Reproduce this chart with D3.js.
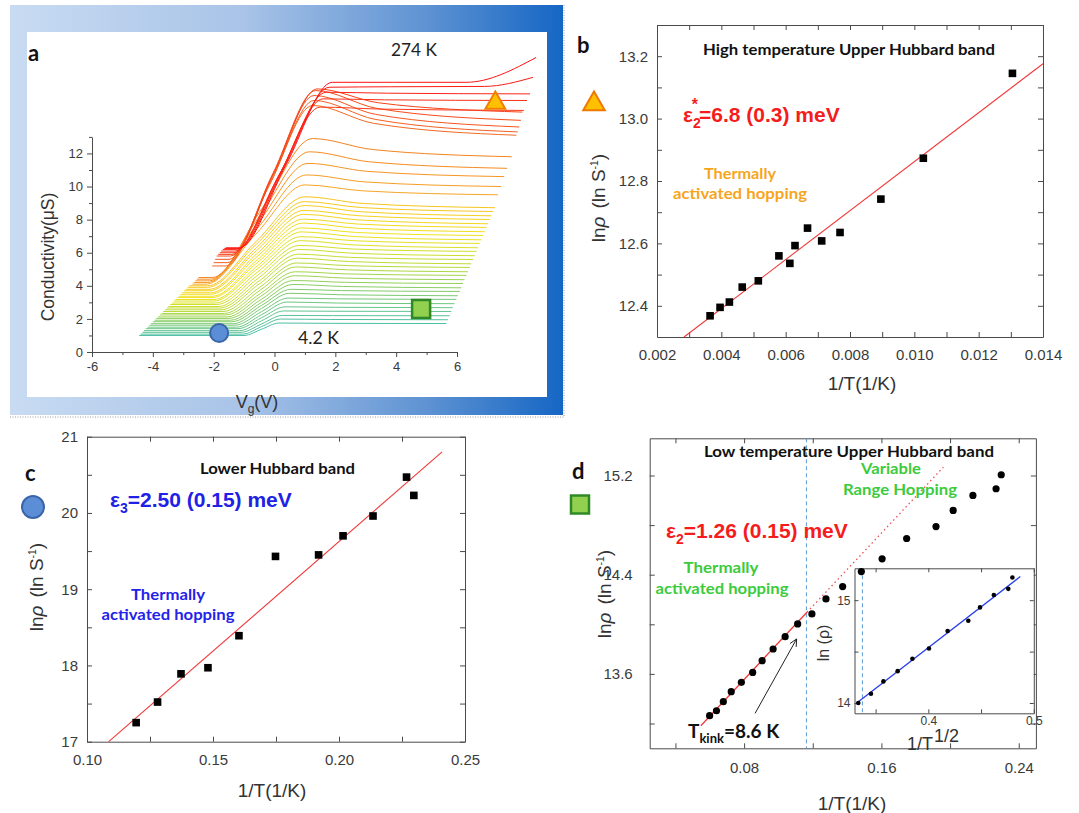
<!DOCTYPE html>
<html>
<head>
<meta charset="utf-8">
<script src="https://cdn.jsdelivr.net/npm/d3@7"></script>
<style>
  body { margin: 0; background: #fff; }
  svg { display: block; }
</style>
</head>
<body>
<div id="fig"></div>
<script>
// ---------- panel a : conductivity sweeps, 4.2 K (first row) up to 274 K (last row)
// row = [Vg left end, level left, Vg rise start, Vg knee, level at knee, Vg right end, level right end, (Vg tail start, level at end)]
var sweepRows = [
    [-4.45, 1.00, -1.00, 0.15, 1.75, 5.65, 1.72],
    [-4.40, 1.08, -1.05, 0.20, 1.99, 5.70, 1.95],
    [-4.34, 1.19, -1.10, 0.26, 2.21, 5.76, 2.19],
    [-4.29, 1.29, -1.15, 0.30, 2.48, 5.81, 2.45],
    [-4.23, 1.41, -1.20, 0.35, 2.73, 5.86, 2.68],
    [-4.17, 1.50, -1.25, 0.41, 3.02, 5.92, 2.92],
    [-4.11, 1.62, -1.30, 0.45, 3.26, 5.98, 3.18],
    [-4.06, 1.71, -1.36, 0.50, 3.55, 6.03, 3.40],
    [-4.00, 1.83, -1.40, 0.54, 3.79, 6.09, 3.66],
    [-3.94, 1.92, -1.45, 0.60, 4.08, 6.14, 3.88],
    [-3.89, 2.03, -1.50, 0.62, 4.32, 6.20, 4.14],
    [-3.83, 2.12, -1.56, 0.65, 4.61, 6.25, 4.37],
    [-3.77, 2.24, -1.60, 0.68, 4.85, 6.31, 4.63],
    [-3.71, 2.33, -1.65, 0.70, 5.14, 6.36, 4.85],
    [-3.66, 2.45, -1.70, 0.73, 5.38, 6.42, 5.11],
    [-3.60, 2.55, -1.76, 0.75, 5.67, 6.47, 5.33],
    [-3.54, 2.66, -1.80, 0.78, 5.91, 6.53, 5.59],
    [-3.49, 2.75, -1.85, 0.80, 6.20, 6.58, 5.82],
    [-3.43, 2.87, -1.90, 0.82, 6.44, 6.64, 6.08],
    [-3.37, 2.96, -1.95, 0.85, 6.73, 6.69, 6.30],
    [-3.31, 3.08, -2.00, 0.87, 6.97, 6.75, 6.56],
    [-3.26, 3.17, -2.00, 0.89, 7.26, 6.80, 6.78],
    [-3.20, 3.29, -2.05, 0.91, 7.50, 6.86, 7.04],
    [-3.14, 3.37, -2.05, 0.93, 7.79, 6.91, 7.27],
    [-3.09, 3.49, -2.10, 0.95, 8.03, 6.97, 7.53],
    [-3.03, 3.58, -2.10, 0.96, 8.32, 7.02, 7.75],
    [-2.97, 3.70, -2.15, 0.97, 8.56, 7.08, 8.01],
    [-2.92, 3.79, -2.15, 0.98, 8.85, 7.13, 8.23],
    [-2.86, 3.91, -2.20, 0.99, 9.09, 7.19, 8.49],
    [-2.80, 4.00, -2.20, 1.00, 9.38, 7.25, 8.72],
    [-2.70, 4.10, -2.25, 1.00, 10.10, 7.35, 9.50],
    [-2.65, 4.20, -2.20, 1.05, 10.70, 7.45, 10.00],
    [-2.60, 4.30, -2.15, 1.10, 11.40, 7.55, 10.60],
    [-2.55, 4.40, -2.10, 1.15, 12.10, 7.65, 11.10],
    [-2.50, 4.50, -2.05, 1.25, 12.90, 7.80, 11.80],
    [-2.05, 5.20, -1.60, 1.25, 14.90, 7.95, 13.10],
    [-2.00, 5.40, -1.55, 1.30, 15.20, 8.00, 13.30],
    [-1.95, 5.60, -1.50, 1.30, 15.50, 8.05, 13.60],
    [-1.90, 5.80, -1.45, 1.35, 15.80, 8.10, 14.00],
    [-1.85, 5.90, -1.40, 1.40, 15.90, 8.15, 14.50],
    [-1.80, 6.00, -1.35, 1.50, 14.80, 8.20, 14.60],
    [-1.75, 6.10, -1.30, 1.60, 15.30, 8.30, 15.20],
    [-1.70, 6.20, -1.25, 1.70, 15.70, 8.40, 15.60],
    [-1.65, 6.25, -1.20, 1.80, 16.00, 8.50, 16.05, 6.90, 16.60],
    [-1.60, 6.30, -1.15, 1.90, 16.30, 8.60, 16.30, 6.30, 17.80]
];
var sweepColorAt = [0, 8, 15, 22, 29, 30, 34, 35, 44];
var sweepColors = ['#4cbfa6', '#80cc6a', '#bedc34', '#f0e31c', '#f7c51e', '#f7a526', '#f5841f', '#f26a22', '#ff1111'];
var aTicksX = [-6, -4, -2, 0, 2, 4, 6];
var aMinorX = [-5, -3, -1, 1, 3, 5];
var aTicksY = [0, 2, 4, 6, 8, 10, 12];
var aMinorY = [1, 3, 5, 7, 9, 11, 13];
var aMarkCircle = [-1.82, 1.15];
var aMarkSquare = [4.82, 2.6];
var aMarkTriangle = [7.26, 15.05];

// ---------- panel b : high temperature upper Hubbard band
var bInvT = [0.00365, 0.00396, 0.00425, 0.00465, 0.00515, 0.00579, 0.00613, 0.00629, 0.00668, 0.00712, 0.00769, 0.00896, 0.01028, 0.01305];
var bLnRho = [12.368, 12.395, 12.412, 12.460, 12.480, 12.560, 12.536, 12.593, 12.649, 12.608, 12.635, 12.742, 12.873, 13.145];
var bFitX = [0.00284, 0.014];
var bFitY = [12.30, 13.176];
var bTicksX = [0.002, 0.004, 0.006, 0.008, 0.010, 0.012, 0.014];
var bMinorX = [0.003, 0.005, 0.007, 0.009, 0.011, 0.013];
var bTicksY = [12.4, 12.6, 12.8, 13.0, 13.2];
var bMinorY = [12.5, 12.7, 12.9, 13.1];

// ---------- panel c : lower Hubbard band
var cInvT = [0.1195, 0.1280, 0.1373, 0.1480, 0.1603, 0.1748, 0.1919, 0.2016, 0.2135, 0.2268, 0.2297];
var cLnRho = [17.25, 17.52, 17.89, 17.97, 18.39, 19.43, 19.45, 19.70, 19.96, 20.47, 20.23];
var cFitX = [0.1086, 0.2409];
var cFitY = [17.0, 20.80];
var cTicksX = [0.10, 0.15, 0.20, 0.25];
var cMinorX = [0.125, 0.175, 0.225];
var cTicksY = [17, 18, 19, 20, 21];
var cMinorY = [17.5, 18.5, 19.5, 20.5];

// ---------- panel d : low temperature upper Hubbard band
var dInvT = [0.0599, 0.0639, 0.0679, 0.0725, 0.0784, 0.0850, 0.0905, 0.0969, 0.1039, 0.1112, 0.1195, 0.1277, 0.1374, 0.1483, 0.1604, 0.1747, 0.1918, 0.2018, 0.2133, 0.2268, 0.2298];
var dLnRho = [13.263, 13.303, 13.376, 13.457, 13.532, 13.612, 13.707, 13.801, 13.900, 14.003, 14.084, 14.205, 14.304, 14.425, 14.528, 14.692, 14.788, 14.918, 15.039, 15.093, 15.206];
var dFitX = [0.0548, 0.1166];
var dFitY = [13.182, 14.097];
var dExtX = [0.1166, 0.1961];
var dExtY = [14.097, 15.267];
var dKink = 0.1163;
var dArrowX = [0.0864, 0.1106];
var dArrowY = [13.282, 13.882];
var dTicksX = [0.08, 0.16, 0.24];
var dMinorX = [0.04, 0.12, 0.20];
var dTicksY = [13.6, 14.4, 15.2];
var dMinorY = [13.2, 14.0, 14.8];

// inset of d : ln(rho) against T^-1/2
var iInvSqrtT = [0.3336, 0.3456, 0.3574, 0.3709, 0.3849, 0.4006, 0.4183, 0.4379, 0.4490, 0.4621, 0.4758, 0.4797];
var iLnRho = [14.00, 14.09, 14.21, 14.31, 14.43, 14.53, 14.70, 14.80, 14.93, 15.05, 15.11, 15.22];
var iFitX = [0.3309, 0.4872];
var iFitY = [13.99, 15.23];
var iKink = 0.3375;
var iTicksX = [0.4, 0.5];
var iMinorX = [0.35, 0.45];
var iTicksY = [14, 15];
var iMinorY = [14.5];

var SANS = '"Liberation Sans", Arial, Helvetica, sans-serif';
var CAL = 'Lato, "Open Sans", sans-serif';

var svg = d3.select('#fig').append('svg')
    .attr('width', 1079)
    .attr('height', 813)
    .attr('font-family', SANS);
svg.append('rect').attr('width', 1079).attr('height', 813).attr('fill', '#fff');

function label(x, y, str, size, opt) {
    opt = opt || {};
    var t = svg.append('text')
        .attr('x', x)
        .attr('y', y)
        .attr('font-family', opt.family || CAL)
        .attr('font-size', size)
        .attr('font-weight', opt.weight || 'normal')
        .attr('fill', opt.fill || '#111')
        .attr('text-anchor', opt.anchor || 'start')
        .text(str);
    if (opt.len) {
        t.attr('textLength', opt.len).attr('lengthAdjust', 'spacingAndGlyphs');
    }
    return t;
}

function styleAxis(sel, fs) {
    sel.attr('font-family', SANS).attr('font-size', fs);
    sel.selectAll('.domain').attr('stroke', '#4a4a4a');
    sel.selectAll('.tick line').attr('stroke', '#4a4a4a');
    sel.selectAll('.tick text').attr('fill', '#3a3a3a');
}

function boxAxes(x, y, o) {
    var g = svg.append('g');
    var xt = o.xMajor.concat(o.xMinor), yt = o.yMajor.concat(o.yMinor);
    var fx = function (d) { return o.xMajor.indexOf(d) >= 0 ? o.xFmt(d) : ''; };
    var fy = function (d) { return o.yMajor.indexOf(d) >= 0 ? o.yFmt(d) : ''; };
    var none = function () { return ''; };
    g.append('g').attr('transform', 'translate(0,' + y.range()[0] + ')')
        .call(d3.axisBottom(x).tickValues(xt).tickSize(-o.tick).tickSizeOuter(0).tickPadding(o.xPad).tickFormat(fx))
        .call(styleAxis, o.fs);
    g.append('g').attr('transform', 'translate(0,' + y.range()[1] + ')')
        .call(d3.axisTop(x).tickValues(xt).tickSize(-o.tick).tickSizeOuter(0).tickFormat(none))
        .call(styleAxis, o.fs);
    g.append('g').attr('transform', 'translate(' + x.range()[0] + ',0)')
        .call(d3.axisLeft(y).tickValues(yt).tickSize(-o.tick).tickSizeOuter(0).tickPadding(o.yPad).tickFormat(fy))
        .call(styleAxis, o.fs);
    g.append('g').attr('transform', 'translate(' + x.range()[1] + ',0)')
        .call(d3.axisRight(y).tickValues(yt).tickSize(-o.tick).tickSizeOuter(0).tickFormat(none))
        .call(styleAxis, o.fs);
    return g;
}

function lnRhoTitle(cx, cy, fs) {
    var t = svg.append('text')
        .attr('transform', 'translate(' + cx + ',' + cy + ') rotate(-90)')
        .attr('text-anchor', 'middle')
        .attr('dy', '0.35em')
        .attr('font-size', fs)
        .attr('fill', '#333');
    t.append('tspan').text('ln');
    t.append('tspan').attr('font-style', 'italic').text('ρ');
    t.append('tspan').attr('dx', 8).text('(ln S');
    t.append('tspan').attr('dy', -7).attr('font-size', fs * 0.55).text('-1');
    t.append('tspan').attr('dy', 7).text(')');
}

function invTTitle(cx, y) {
    label(cx, y, '1/T(1/K)', 19, {family: SANS, anchor: 'middle', fill: '#333'});
}

function fitPath(x, y, xs, ys) {
    return d3.line().x(function (d) { return x(d[0]); }).y(function (d) { return y(d[1]); })(d3.zip(xs, ys));
}

// ================= panel a =================
var defs = svg.append('defs');
var grad = defs.append('linearGradient').attr('id', 'frameGrad').attr('x1', 0).attr('x2', 1).attr('y1', 0).attr('y2', 0);
grad.append('stop').attr('offset', 0).attr('stop-color', '#c8dbf2');
grad.append('stop').attr('offset', 0.42).attr('stop-color', '#a9c4e8');
grad.append('stop').attr('offset', 0.75).attr('stop-color', '#5f93d3');
grad.append('stop').attr('offset', 1).attr('stop-color', '#1566c4');

svg.append('rect').attr('x', 10).attr('y', 5).attr('width', 553).attr('height', 410).attr('fill', 'url(#frameGrad)');
svg.append('rect').attr('x', 27).attr('y', 32).attr('width', 520).attr('height', 365).attr('fill', '#fff');
svg.append('line').attr('x1', 564).attr('x2', 564).attr('y1', 5).attr('y2', 417)
    .attr('stroke', '#9a9a9a').attr('stroke-dasharray', '1,1.5');
svg.append('line').attr('x1', 10).attr('x2', 564).attr('y1', 417).attr('y2', 417)
    .attr('stroke', '#9a9a9a').attr('stroke-dasharray', '1,1.5');

var xA = d3.scaleLinear().domain([-6, 6]).range([92, 457]);
var yA = d3.scaleLinear().domain([0, 13]).range([352, 136.9]);

var ga = svg.append('g');
ga.append('g').attr('transform', 'translate(0,' + yA(0) + ')')
    .call(d3.axisBottom(xA).tickValues(aMinorX).tickSize(3).tickFormat(function () { return ''; }))
    .call(function (g) { g.select('.domain').remove(); })
    .call(styleAxis, 13);
ga.append('g').attr('transform', 'translate(0,' + yA(0) + ')')
    .call(d3.axisBottom(xA).tickValues(aTicksX).tickSize(5).tickSizeOuter(0).tickPadding(5)
        .tickFormat(function (d) { return String(d); }))
    .call(styleAxis, 13);
ga.append('g').attr('transform', 'translate(' + xA(-6) + ',0)')
    .call(d3.axisLeft(yA).tickValues(aMinorY).tickSize(3).tickFormat(function () { return ''; }))
    .call(function (g) { g.select('.domain').remove(); })
    .call(styleAxis, 13);
ga.append('g').attr('transform', 'translate(' + xA(-6) + ',0)')
    .call(d3.axisLeft(yA).tickValues(aTicksY).tickSize(5).tickSizeOuter(0).tickPadding(4)
        .tickFormat(function (d) { return String(d); }))
    .call(styleAxis, 13);

var sweepColor = d3.scaleLinear().domain(sweepColorAt).range(sweepColors).interpolate(d3.interpolateRgb);
var sweepLine = d3.line()
    .x(function (d) { return xA(d[0]); })
    .y(function (d) { return yA(d[1]); })
    .curve(d3.curveMonotoneX);

function sweepPoints(r) {
    var pts = [[r[0], r[1]], [r[2], r[1]], [(r[2] + r[3]) / 2, (r[1] + r[4]) / 2], [r[3], r[4]]];
    pts.push([r[3] + 0.3 * (r[5] - r[3]), r[6] + 0.4 * (r[4] - r[6])]);
    if (r.length > 7) {
        pts.push([r[7], r[6]]);
        pts.push([r[5], r[8]]);
    } else {
        pts.push([r[5], r[6]]);
    }
    return pts;
}

ga.append('g').selectAll('path')
    .data(sweepRows)
    .enter().append('path')
    .attr('d', function (r) { return sweepLine(sweepPoints(r)); })
    .attr('fill', 'none')
    .attr('stroke', function (r, i) { return sweepColor(i); })
    .attr('stroke-width', 1);

ga.append('circle')
    .attr('cx', xA(aMarkCircle[0])).attr('cy', yA(aMarkCircle[1])).attr('r', 9)
    .attr('fill', '#5b8ed6').attr('stroke', '#3a66a8').attr('stroke-width', 2);
ga.append('rect')
    .attr('x', xA(aMarkSquare[0]) - 9).attr('y', yA(aMarkSquare[1]) - 9).attr('width', 18).attr('height', 18)
    .attr('fill', '#92d050').attr('stroke', '#2f8a26').attr('stroke-width', 2.5);
ga.append('path')
    .attr('transform', 'translate(' + xA(aMarkTriangle[0]) + ',' + yA(aMarkTriangle[1]) + ')')
    .attr('d', d3.symbol().type(d3.symbolTriangle).size(170)())
    .attr('fill', '#ffc000').attr('stroke', '#f08000').attr('stroke-width', 2);

label(28, 61, 'a', 22, {weight: 'bold'});
label(391, 56, '274 K', 17, {len: 46, fill: '#222'});
label(298, 344, '4.2 K', 17, {len: 41, fill: '#222'});
svg.append('text')
    .attr('transform', 'translate(48,257) rotate(-90)')
    .attr('text-anchor', 'middle').attr('dy', '0.35em')
    .attr('font-size', 17.5).attr('fill', '#333')
    .text('Conductivity(μS)');
var vgt = svg.append('text').attr('x', 257).attr('y', 408).attr('text-anchor', 'middle')
    .attr('font-size', 18).attr('fill', '#333');
vgt.append('tspan').text('V');
vgt.append('tspan').attr('dy', 5).attr('font-size', 12).text('g');
vgt.append('tspan').attr('dy', -5).text('(V)');

// ================= panel b =================
var xB = d3.scaleLinear().domain([0.002, 0.014]).range([657, 1043]);
var yB = d3.scaleLinear().domain([12.3, 13.3]).range([337, 25]);
boxAxes(xB, yB, {xMajor: bTicksX, xMinor: bMinorX, yMajor: bTicksY, yMinor: bMinorY,
    xFmt: d3.format('.3f'), yFmt: d3.format('.1f'), tick: 5, xPad: 12, yPad: 9, fs: 15});

svg.append('path').attr('d', fitPath(xB, yB, bFitX, bFitY))
    .attr('stroke', '#f03a3a').attr('stroke-width', 1.1).attr('fill', 'none');
svg.append('g').selectAll('rect')
    .data(d3.zip(bInvT, bLnRho))
    .enter().append('rect')
    .attr('x', function (d) { return xB(d[0]) - 3.8; })
    .attr('y', function (d) { return yB(d[1]) - 3.8; })
    .attr('width', 7.6).attr('height', 7.6)
    .attr('fill', '#000');

label(577, 53, 'b', 22, {weight: 'bold'});
svg.append('path')
    .attr('transform', 'translate(594,104)')
    .attr('d', d3.symbol().type(d3.symbolTriangle).size(200)())
    .attr('fill', '#ffc000').attr('stroke', '#f07800').attr('stroke-width', 2);
label(703, 55, 'High temperature Upper Hubbard band', 15, {weight: 'bold', len: 292});
var eb = svg.append('text').attr('x', 683).attr('y', 122).attr('font-size', 21)
    .attr('font-weight', 'bold').attr('fill', '#f41c1c');
eb.append('tspan').text('ε');
eb.append('tspan').attr('dy', 6).attr('font-size', 14).text('2');
eb.append('tspan').attr('dx', -9).attr('dy', -18).attr('font-size', 16).text('*');
eb.append('tspan').attr('dy', 12).attr('dx', 1).text('=6.8 (0.3) meV');
label(740, 179, 'Thermally', 15, {weight: 'bold', fill: '#f7a51d', anchor: 'middle', len: 72});
label(740, 199, 'activated hopping', 15, {weight: 'bold', fill: '#f7a51d', anchor: 'middle', len: 134});
lnRhoTitle(598, 198, 19);
invTTitle(862, 390);

// ================= panel c =================
var xC = d3.scaleLinear().domain([0.10, 0.25]).range([87, 465]);
var yC = d3.scaleLinear().domain([17, 21]).range([741.7, 436.7]);
boxAxes(xC, yC, {xMajor: cTicksX, xMinor: cMinorX, yMajor: cTicksY, yMinor: cMinorY,
    xFmt: d3.format('.2f'), yFmt: d3.format('d'), tick: 5, xPad: 13, yPad: 9, fs: 15});

svg.append('path').attr('d', fitPath(xC, yC, cFitX, cFitY))
    .attr('stroke', '#f03a3a').attr('stroke-width', 1.1).attr('fill', 'none');
svg.append('g').selectAll('rect')
    .data(d3.zip(cInvT, cLnRho))
    .enter().append('rect')
    .attr('x', function (d) { return xC(d[0]) - 3.8; })
    .attr('y', function (d) { return yC(d[1]) - 3.8; })
    .attr('width', 7.6).attr('height', 7.6)
    .attr('fill', '#000');

label(25, 481, 'c', 22, {weight: 'bold'});
svg.append('circle').attr('cx', 33).attr('cy', 507).attr('r', 11)
    .attr('fill', '#5b8ed6').attr('stroke', '#3a66a8').attr('stroke-width', 2);
label(200, 474, 'Lower Hubbard band', 15, {weight: 'bold', len: 155});
var ec = svg.append('text').attr('x', 110).attr('y', 507).attr('font-size', 21)
    .attr('font-weight', 'bold').attr('fill', '#2121e6');
ec.append('tspan').text('ε');
ec.append('tspan').attr('dy', 6).attr('font-size', 14).text('3');
ec.append('tspan').attr('dy', -6).text('=2.50 (0.15) meV');
label(168, 600, 'Thermally', 15, {weight: 'bold', fill: '#2323e8', anchor: 'middle', len: 74});
label(168, 620, 'activated hopping', 15, {weight: 'bold', fill: '#2323e8', anchor: 'middle', len: 133});
lnRhoTitle(36, 587, 19);
invTTitle(272, 797);

// ================= panel d =================
var xD = d3.scaleLinear().domain([0.025, 0.25]).range([649.7, 1035.9]);
var yD = d3.scaleLinear().domain([13.0, 15.5]).range([748.3, 438.3]);
boxAxes(xD, yD, {xMajor: dTicksX, xMinor: dMinorX, yMajor: dTicksY, yMinor: dMinorY,
    xFmt: d3.format('.2f'), yFmt: d3.format('.1f'), tick: 5, xPad: 14, yPad: 17, fs: 15});

svg.append('line')
    .attr('x1', xD(dKink)).attr('x2', xD(dKink)).attr('y1', yD(15.5)).attr('y2', yD(13.0))
    .attr('stroke', '#5b9bd5').attr('stroke-width', 1).attr('stroke-dasharray', '4,3');
svg.append('path').attr('d', fitPath(xD, yD, dFitX, dFitY))
    .attr('stroke', '#f03a3a').attr('stroke-width', 1.3).attr('fill', 'none');
svg.append('path').attr('d', fitPath(xD, yD, dExtX, dExtY))
    .attr('stroke', '#f05050').attr('stroke-width', 1.3).attr('fill', 'none')
    .attr('stroke-dasharray', '1.5,3');

// inset
var xI = d3.scaleLinear().domain([0.33, 0.5]).range([854.5, 1033.8]);
var yI = d3.scaleLinear().domain([13.9, 15.31]).range([713.3, 568.3]);
svg.append('rect').attr('x', 854.5).attr('y', 568.3).attr('width', 179.3).attr('height', 145).attr('fill', '#fff');
boxAxes(xI, yI, {xMajor: iTicksX, xMinor: iMinorX, yMajor: iTicksY, yMinor: iMinorY,
    xFmt: d3.format('.1f'), yFmt: d3.format('d'), tick: 4, xPad: 3, yPad: 4, fs: 12});
svg.append('line')
    .attr('x1', xI(iKink)).attr('x2', xI(iKink)).attr('y1', yI(15.31)).attr('y2', yI(13.9))
    .attr('stroke', '#5b9bd5').attr('stroke-width', 1).attr('stroke-dasharray', '4,3');
svg.append('path').attr('d', fitPath(xI, yI, iFitX, iFitY))
    .attr('stroke', '#2b3fe8').attr('stroke-width', 1.3).attr('fill', 'none');
svg.append('g').selectAll('circle')
    .data(d3.zip(iInvSqrtT, iLnRho))
    .enter().append('circle')
    .attr('cx', function (d) { return xI(d[0]); })
    .attr('cy', function (d) { return yI(d[1]); })
    .attr('r', 2.3)
    .attr('fill', '#000');
svg.append('text')
    .attr('transform', 'translate(823,643) rotate(-90)')
    .attr('text-anchor', 'middle').attr('dy', '0.35em')
    .attr('font-size', 16).attr('fill', '#333')
    .text('ln (ρ)');
var it = svg.append('text').attr('x', 907).attr('y', 750).attr('font-size', 18).attr('fill', '#333');
it.append('tspan').text('1/T');
it.append('tspan').attr('dx', 1).attr('dy', -8).text('1/2');

svg.append('g').selectAll('circle')
    .data(d3.zip(dInvT, dLnRho))
    .enter().append('circle')
    .attr('cx', function (d) { return xD(d[0]); })
    .attr('cy', function (d) { return yD(d[1]); })
    .attr('r', 3.6)
    .attr('fill', '#000');

// arrow to the kink
var ax0 = xD(dArrowX[0]), ay0 = yD(dArrowY[0]), ax1 = xD(dArrowX[1]), ay1 = yD(dArrowY[1]);
var ang = Math.atan2(ay1 - ay0, ax1 - ax0);
svg.append('line').attr('x1', ax0).attr('y1', ay0).attr('x2', ax1).attr('y2', ay1)
    .attr('stroke', '#222').attr('stroke-width', 1);
svg.append('path')
    .attr('d', 'M' + (ax1 - 8 * Math.cos(ang - 0.45)) + ',' + (ay1 - 8 * Math.sin(ang - 0.45)) +
        'L' + ax1 + ',' + ay1 +
        'L' + (ax1 - 8 * Math.cos(ang + 0.45)) + ',' + (ay1 - 8 * Math.sin(ang + 0.45)))
    .attr('stroke', '#222').attr('stroke-width', 1).attr('fill', 'none');

label(572, 479, 'd', 22, {weight: 'bold'});
svg.append('rect').attr('x', 571).attr('y', 495.5).attr('width', 18).attr('height', 18)
    .attr('fill', '#92d050').attr('stroke', '#2f8a26').attr('stroke-width', 2.5);
label(704, 457, 'Low temperature Upper Hubbard band', 15, {weight: 'bold', len: 290});
label(891, 474, 'Variable', 15, {weight: 'bold', fill: '#3ccb3c', anchor: 'middle', len: 60});
label(900, 495, 'Range Hopping', 15, {weight: 'bold', fill: '#3ccb3c', anchor: 'middle', len: 114});
var ed = svg.append('text').attr('x', 666).attr('y', 538).attr('font-size', 21)
    .attr('font-weight', 'bold').attr('fill', '#f41c1c');
ed.append('tspan').text('ε');
ed.append('tspan').attr('dy', 6).attr('font-size', 14).text('2');
ed.append('tspan').attr('dy', -6).text('=1.26 (0.15) meV');
label(721, 573, 'Thermally', 15, {weight: 'bold', fill: '#3ccb3c', anchor: 'middle', len: 75});
label(722, 594, 'activated hopping', 15, {weight: 'bold', fill: '#3ccb3c', anchor: 'middle', len: 133});
var tk = svg.append('text').attr('x', 688).attr('y', 738).attr('font-family', CAL)
    .attr('font-size', 19).attr('font-weight', 'bold').attr('fill', '#111');
tk.append('tspan').text('T');
tk.append('tspan').attr('dy', 5).attr('font-size', 13).text('kink');
tk.append('tspan').attr('dy', -5).text('=8.6 K');
lnRhoTitle(604, 594, 19);
invTTitle(852, 810);
</script>
</body>
</html>
